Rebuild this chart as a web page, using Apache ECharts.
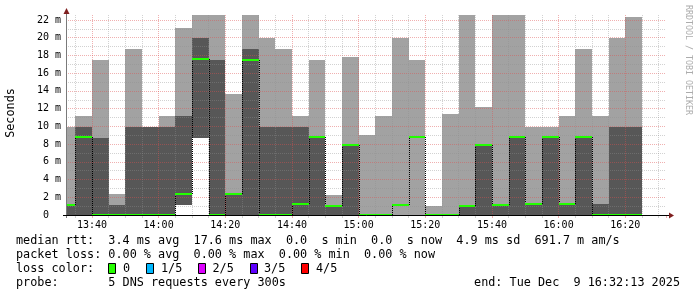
<!DOCTYPE html>
<html><head><meta charset="utf-8">
<script src="https://cdn.jsdelivr.net/npm/echarts@6/dist/echarts.min.js"></script>
<style>html,body{margin:0;padding:0;background:#fff}#c{width:697px;height:297px}</style>
</head><body><div id="c"></div>
<script>
// ---- data (5-minute buckets, values in ms) ----
const bucketStart = ['13:30','13:35','13:40','13:45','13:50','13:55','14:00','14:05','14:10','14:15',
  '14:20','14:25','14:30','14:35','14:40','14:45','14:50','14:55','15:00','15:05',
  '15:10','15:15','15:20','15:25','15:30','15:35','15:40','15:45','15:50','15:55',
  '16:00','16:05','16:10','16:15','16:20'];
const smokeMin  = [0,0,0,0,0,0,0,1.13,8.72,0, 0,0,0,0,0,0,0,0,0,0, 0,0,0,0,0,0,0,0,0,0, 0,0,0,0,0];
const innerLow  = [0,0,0,0,0,0,0,1.13,8.72,0, 0,0,0,0,0,0,0,0,0,0, 1.13,8.76,0,0,0,0,0,0,0,0, 0,0,0,0,0];
const innerHigh = [1.13,9.89,8.72,1.13,9.89,9.89,9.89,11.17,20.0,17.49,
  2.4,18.73,9.89,9.89,9.89,8.76,1.05,7.9,0,0,
  1.13,8.76,0,0,1.05,7.9,1.13,8.76,1.2,8.76,
  1.2,8.76,1.24,9.89,9.89];
const smokeMax  = [9.89,11.17,17.49,2.37,18.73,9.89,11.17,21.14,22.56,22.56,
  13.65,22.56,20.0,18.73,11.17,17.49,2.26,17.86,9.03,11.17,
  20.0,17.49,1.02,11.4,22.56,12.18,22.56,22.56,9.89,9.89,
  11.17,18.73,11.17,20.0,22.34];
const medianRtt = [1.13,8.76,0,0,0,0,0,2.37,17.56,0,
  2.4,17.45,0,0,1.2,8.76,1.05,7.9,0,0,
  1.13,8.76,0,0,1.05,7.9,1.13,8.76,1.2,8.76,
  1.24,8.76,0,0,0];
const xTickLabels = ['13:40','14:00','14:20','14:40','15:00','15:20','15:40','16:00','16:20'];
const yTickLabels = ['0  ','2 m','4 m','6 m','8 m','10 m','12 m','14 m','16 m','18 m','20 m','22 m'];
const axisStart = '13:32:13', axisEnd = '16:32:13';
const yTop = 22.56;
const legendLines = [
  'median rtt:  3.4 ms avg  17.6 ms max  0.0  s min  0.0  s now  4.9 ms sd  691.7 m am/s',
  'packet loss: 0.00 % avg  0.00 % max  0.00 % min  0.00 % now',
  'loss color:',
  'probe:       5 DNS requests every 300s'
];
const endText = 'end: Tue Dec  9 16:32:13 2025';
const lossLabels = ['0','1/5','2/5','3/5','4/5'];
const lossColors = ['#26ff00','#00b8ff','#dd00ff','#5e00ff','#ff0000'];
const stepMin = 5;

function toMin(s){ const p = s.split(':').map(Number); return p[0]*60 + p[1] + (p[2]||0)/60; }
function fmtHM(v){ const h = Math.floor(v/60), m = Math.round(v - h*60); return String(h).padStart(2,'0') + ':' + String(m).padStart(2,'0'); }
const xMin = toMin(axisStart), xMax = toMin(axisEnd);
const data = bucketStart.map((t,i)=>[toMin(t), smokeMin[i], innerLow[i], innerHigh[i], smokeMax[i], medianRtt[i]]);

const MONO = 'DejaVu Sans Mono';
const gridGray = 'rgba(143,143,143,0.4)';
const gridPink = 'rgba(222,79,79,0.45)';

function bounds(api){
  const s = api.value(0);
  const t0 = Math.max(s, xMin), t1 = Math.min(s + stepMin, xMax);
  return {s, t0, t1, X0: Math.round(api.coord([t0,0])[0]), X1: Math.round(api.coord([t1,0])[0])};
}
function renderSmoke(params, api){
  const b = bounds(api);
  const y = v => Math.round(api.coord([b.t0, v])[1]);
  const ch = [];
  const yLo = y(api.value(1)), yHi = y(api.value(4));
  if (yLo > yHi) ch.push({type:'rect', shape:{x:b.X0, y:yHi, width:b.X1-b.X0, height:yLo-yHi}, style:{fill:'#a2a2a2'}});
  const iLo = y(api.value(2)), iHi = y(api.value(3));
  if (iLo > iHi) ch.push({type:'rect', shape:{x:b.X0, y:iHi, width:b.X1-b.X0, height:iLo-iHi}, style:{fill:'#575757'}});
  return {type:'group', children:ch};
}
function renderMedian(params, api){
  const i = params.dataIndex;
  const b = bounds(api);
  const yM = Math.round(api.coord([b.t0, api.value(5)])[1]);
  const ch = [];
  if (i > 0 && toMin(bucketStart[i-1]) + stepMin === b.s && medianRtt[i-1] !== medianRtt[i]) {
    const yP = Math.round(api.coord([b.t0, medianRtt[i-1]])[1]);
    ch.push({type:'line', shape:{x1:b.X0+0.5, y1:yP, x2:b.X0+0.5, y2:yM}, style:{stroke:'#000', lineWidth:1, lineDash:[1,1]}});
  }
  ch.push({type:'line', shape:{x1:b.X0, y1:yM, x2:b.X1, y2:yM}, style:{stroke:'#22ff00', lineWidth:2}});
  return {type:'group', children:ch};
}

const chart = echarts.init(document.getElementById('c'), null, {renderer:'canvas', width:697, height:297});
const graphics = [
  {type:'line', z:100, shape:{x1:66.5, y1:218, x2:66.5, y2:12}, style:{stroke:'#7a7a7a', lineWidth:1}},
  {type:'polygon', z:100, shape:{points:[[63.5,14],[69.5,14],[66.5,8]]}, style:{fill:'#7f1f1f'}},
  {type:'line', z:100, shape:{x1:63, y1:215.5, x2:670, y2:215.5}, style:{stroke:'#000', lineWidth:1}},
  {type:'polygon', z:100, shape:{points:[[669,212.5],[669,218.5],[674,215.5]]}, style:{fill:'#7f1f1f'}},
  {type:'text', z:100, x:11, y:113, rotation:Math.PI/2,
    style:{text:'Seconds', x:0, y:0, font:'11.8px "'+MONO+'"', fill:'#000', align:'center', verticalAlign:'middle', textAlign:'center', textVerticalAlign:'middle'}},
  {type:'text', z:100, x:688, y:60, rotation:-Math.PI/2,
    style:{text:'RRDTOOL / TOBI OETIKER', x:0, y:0, font:'8.3px "'+MONO+'"', fill:'#acacac', align:'center', verticalAlign:'middle', textAlign:'center', textVerticalAlign:'middle'}},
  {type:'text', z:100, style:{text:endText, x:680, y:283, font:'11.8px "'+MONO+'"', fill:'#000', align:'right', verticalAlign:'middle', textAlign:'right', textVerticalAlign:'middle'}}
];
legendLines.forEach((t,k)=>{
  graphics.push({type:'text', z:100, style:{text:t, x:16, y:241 + 14*k, font:'11.8px "'+MONO+'"', fill:'#000', align:'left', verticalAlign:'middle', textAlign:'left', textVerticalAlign:'middle'}});
});
const boxX = [108,146,198,250,301], labX = [123,161,212.5,264,316];
lossLabels.forEach((t,k)=>{
  graphics.push({type:'rect', z:100, shape:{x:boxX[k]+0.5, y:263.5, width:7, height:10}, style:{fill:lossColors[k], stroke:'#000', lineWidth:1}});
  graphics.push({type:'text', z:100, style:{text:t, x:labX[k], y:269, font:'11.8px "'+MONO+'"', fill:'#000', align:'left', verticalAlign:'middle', textAlign:'left', textVerticalAlign:'middle'}});
});

chart.setOption({
  animation:false,
  backgroundColor:'#ffffff',
  grid:{left:66, top:15, width:600, height:200, containLabel:false},
  xAxis:{type:'value', min:xMin, max:xMax, splitNumber:9, minInterval:20, maxInterval:20, z:3,
    axisLine:{show:false},
    axisTick:{show:true, length:3, lineStyle:{color:gridPink}},
    minorTick:{show:true, splitNumber:4, length:3, lineStyle:{color:gridGray}},
    splitLine:{show:true, showMinLine:false, showMaxLine:false, lineStyle:{color:gridPink, type:[1,1], width:1}},
    minorSplitLine:{show:true, lineStyle:{color:gridGray, type:[1,1], width:1}},
    axisLabel:{showMinLabel:false, showMaxLabel:false, margin:5, fontFamily:MONO, fontSize:10, color:'#000',
      formatter:v=>{ const s = fmtHM(v); return xTickLabels.indexOf(s) >= 0 ? s : ''; }}
  },
  yAxis:{type:'value', min:0, max:yTop, interval:2, z:3,
    axisLine:{show:false}, axisTick:{show:false},
    splitLine:{show:true, showMinLine:false, showMaxLine:false, lineStyle:{color:gridPink, type:[1,1], width:1}},
    minorTick:{show:false, splitNumber:2},
    minorSplitLine:{show:true, lineStyle:{color:gridGray, type:[1,1], width:1}},
    axisLabel:{showMaxLabel:false, margin:5, fontFamily:MONO, fontSize:10, color:'#000',
      formatter:v=>{ const k = Math.round(v/2); return (Math.abs(v - 2*k) < 1e-6 && yTickLabels[k]) ? yTickLabels[k] : ''; }}
  },
  series:[
    {type:'custom', z:1, data:data, renderItem:renderSmoke, encode:{x:0, y:4}, silent:true},
    {type:'custom', z:5, data:data, renderItem:renderMedian, encode:{x:0, y:5}, silent:true}
  ],
  graphic:graphics
});
</script></body></html>
